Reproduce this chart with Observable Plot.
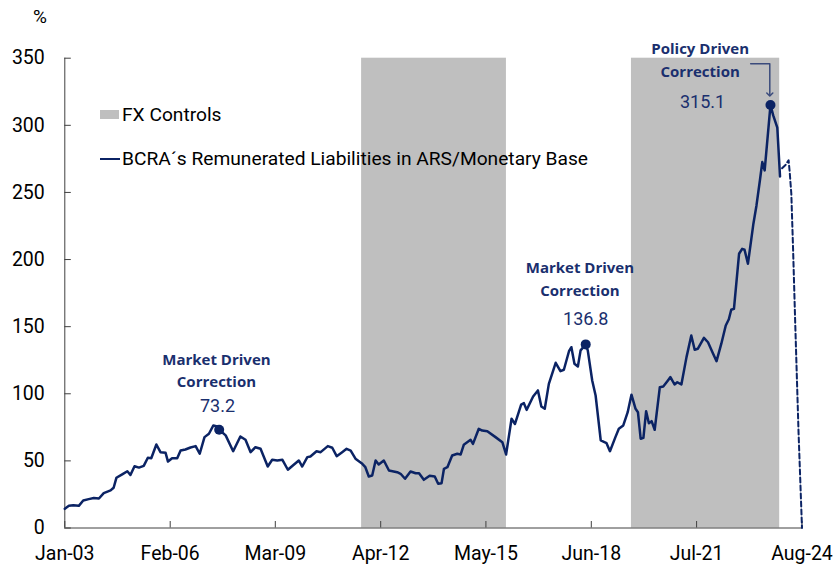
<!DOCTYPE html>
<html><head><meta charset="utf-8">
<script src="https://cdn.jsdelivr.net/npm/d3@7"></script>
<script src="https://cdn.jsdelivr.net/npm/@observablehq/plot@0.6"></script>
<style>
body{margin:0;background:#fff;}
#wrap{position:relative;width:836px;height:564px;font-family:Roboto,sans-serif;color:#000;}
#wrap svg{position:absolute;left:0;top:0;}
.pct{position:absolute;left:33px;top:5px;font-size:19px;}
.leg{position:absolute;left:100px;font-size:19.2px;white-space:nowrap;display:flex;align-items:center;}
.sw{display:inline-block;width:19px;height:9px;background:#bfbfbf;margin-right:3px;}
.ln{display:inline-block;width:20px;height:2px;background:#0b2364;margin-right:2px;}
</style></head><body><div id="wrap"></div>
<script>
// ---- data (decimal years) ----
const lineYears = [2003.00,2003.12,2003.25,2003.41,2003.54,2003.70,2003.85,2004.00,2004.14,2004.34,2004.43,2004.51,2004.68,2004.83,2004.92,2005.04,2005.17,2005.31,2005.43,2005.53,2005.68,2005.80,2005.95,2006.02,2006.14,2006.29,2006.39,2006.53,2006.68,2006.83,2006.95,2007.09,2007.22,2007.35,2007.46,2007.52,2007.71,2007.93,2008.14,2008.29,2008.44,2008.58,2008.73,2008.94,2009.07,2009.22,2009.37,2009.53,2009.71,2009.85,2009.95,2010.10,2010.19,2010.37,2010.49,2010.70,2010.83,2010.96,2011.12,2011.25,2011.37,2011.51,2011.71,2011.80,2011.90,2012.00,2012.10,2012.19,2012.34,2012.49,2012.73,2012.83,2012.96,2013.12,2013.27,2013.37,2013.51,2013.68,2013.83,2013.93,2014.03,2014.10,2014.20,2014.34,2014.49,2014.59,2014.68,2014.88,2014.95,2015.12,2015.22,2015.37,2015.61,2015.81,2015.92,2016.08,2016.18,2016.36,2016.44,2016.52,2016.71,2016.85,2016.95,2017.05,2017.17,2017.37,2017.51,2017.61,2017.76,2017.83,2017.92,2018.02,2018.10,2018.25,2018.31,2018.44,2018.54,2018.69,2018.86,2018.96,2019.12,2019.22,2019.35,2019.48,2019.59,2019.71,2019.78,2019.86,2019.94,2020.02,2020.10,2020.18,2020.27,2020.42,2020.52,2020.64,2020.73,2020.85,2020.93,2021.05,2021.20,2021.34,2021.44,2021.53,2021.71,2021.83,2021.96,2022.08,2022.22,2022.35,2022.44,2022.51,2022.59,2022.74,2022.83,2022.90,2023.00,2023.16,2023.25,2023.35,2023.42,2023.49,2023.66,2023.74,2023.86,2023.94];
const lineValues = [14.3,16.5,17,16.5,20.5,21.5,22.3,22,26,28,30,37.4,40,42.3,39.5,46,45,46.3,52.3,52,62.2,56.5,56,49.5,52,52,57.7,58.5,60,61,55.3,67.7,70.2,76.4,75.6,73.2,69,57.2,68.2,65.7,56.5,60.2,59,45.8,50.8,50.3,50.8,43.4,47.3,50.3,45.8,52.8,53.3,57.2,56.5,61,59.8,53.5,56.5,59,57.7,51.6,47.8,45.3,38.4,39.1,50.3,47.3,50.3,42.8,41.6,40.4,36.7,42.1,40.8,40.8,35.9,38.9,38.4,32.9,33.4,44.1,45.3,54,55.3,54.8,62,65.7,62.7,73.9,72.6,72.1,67.7,63.9,54.8,81.4,77.5,92,93,88,98,102.5,90.5,88.8,107.4,123.1,116.8,117.9,131.7,134.7,122.3,120.3,132.3,136.8,132.3,109.9,98.7,65.2,63.2,57.2,67.7,73.9,76.4,86.3,99.3,88.8,86.3,66.5,67.2,87,78.1,79.6,73.2,104.9,105.4,109.4,112.4,106.9,108.6,106.9,127.3,143.4,132.8,133.5,141.7,138.4,131,124.3,137.3,150.9,155.5,162.6,163.3,204.3,208,207.3,196.9,226.7,240.3,258.9,272.6,266.4,315.1,307.4,298.2,261.9];
const projYears = [2024.00,2024.10,2024.19,2024.22,2024.27,2024.32,2024.38,2024.48,2024.582];
const projValues = [268,270.5,274,266,249,209,156,72,0];
const bandStartYears = [2011.69,2019.59];
const bandEndYears = [2015.93,2023.93];
const tickLabels = ["Jan-03","Feb-06","Mar-09","Apr-12","May-15","Jun-18","Jul-21","Aug-24"];
const tickYearMonths = [[2003,0],[2006,1],[2009,2],[2012,3],[2015,4],[2018,5],[2021,6],[2024,7]];
const yTicks = [0,50,100,150,200,250,300,350];
const peakYears = [2007.52,2018.25,2023.66];
const peakValues = [73.2,136.8,315.1];
const peakLabels = ["73.2","136.8","315.1"];
const noteTitles = ["Market Driven\nCorrection","Market Driven\nCorrection","Policy Driven\nCorrection"];
const noteYears = [2007.44,2018.08,2021.60];
const noteValues = [104.7,172.7,335.9];
const numYears = [2007.47,2018.25,2021.67];
const numValues = [86.3,150.9,313.1];
const arrowYears = [2023.08,2023.64,2023.64];
const arrowValues = [345.9,345.9,323];
const legendItems = ["FX Controls","BCRA´s Remunerated Liabilities in ARS/Monetary Base"];

// ---- helpers ----
function toDate(y){const yr=Math.floor(y);const s=Date.UTC(yr,0,1),e=Date.UTC(yr+1,0,1);return new Date(s+(y-yr)*(e-s));}
const navy="#0b2364", textNavy="#1a2f6e";
const W=836,H=564,mL=64.3,mR=34.5,mT=57.7,mB=36.5;
const fW=W-mL-mR, fH=H-mT-mB;
const tickDates = tickYearMonths.map(([y,m])=>new Date(Date.UTC(y,m,1)));
const labelOf = new Map(tickDates.map((d,i)=>[+d,tickLabels[i]]));
const xDomain=[tickDates[0],tickDates[tickDates.length-1]];
const series = lineYears.map((y,i)=>({date:toDate(y),value:lineValues[i]}));
const proj = projYears.map((y,i)=>({date:toDate(y),value:projValues[i]}));
const bands = bandStartYears.map((s,i)=>({x1:toDate(s),x2:toDate(bandEndYears[i])}));
const peaks = peakYears.map((y,i)=>({date:toDate(y),value:peakValues[i]}));
const notes = noteTitles.map((t,i)=>({date:toDate(noteYears[i]),value:noteValues[i],text:t}));
const nums = peakLabels.map((t,i)=>({date:toDate(numYears[i]),value:numValues[i],text:t}));
const arrow = arrowYears.map((y,i)=>({date:toDate(y),value:arrowValues[i]}));

const chart = Plot.plot({
  width:W,height:H,marginLeft:mL,marginRight:mR,marginTop:mT,marginBottom:mB,
  style:{fontFamily:"Roboto, sans-serif",fontSize:"19.5px",color:"#000",background:"#fff",overflow:"visible"},
  x:{type:"utc",domain:xDomain},
  y:{domain:[0,350]},
  marks:[
    Plot.rect(bands,{x1:"x1",x2:"x2",fill:"#bfbfbf"}),
    Plot.axisX(tickDates,{tickSize:0,tickPadding:18.5,tickFormat:d=>labelOf.get(+d),fontSize:19.5,label:null,fill:"#000"}),
    Plot.axisY(yTicks,{tickSize:0,tickPadding:20,fontSize:19.5,label:null,fill:"#000"}),
    Plot.ruleY([0],{stroke:"#404040",strokeWidth:1}),
    Plot.ruleX([xDomain[0]],{stroke:"#404040",strokeWidth:1}),
    Plot.ruleX(tickDates,{insetTop:fH-6.5,stroke:"#404040"}),
    Plot.ruleY(yTicks,{insetRight:fW-6.5,stroke:"#404040"}),
    Plot.line(series,{x:"date",y:"value",stroke:navy,strokeWidth:2.5,strokeLinejoin:"round"}),
    Plot.line(proj,{x:"date",y:"value",stroke:navy,strokeWidth:2,strokeDasharray:"5,3"}),
    Plot.dot(peaks,{x:"date",y:"value",r:5,fill:navy,stroke:null}),
    Plot.text(notes,{x:"date",y:"value",text:"text",lineAnchor:"bottom",lineHeight:1.53,fontFamily:"Open Sans",fontWeight:700,fontSize:15,fill:textNavy}),
    Plot.text(nums,{x:"date",y:"value",text:"text",lineAnchor:"bottom",fontFamily:"Roboto",fontSize:18,fill:textNavy}),
    Plot.line(arrow,{x:"date",y:"value",stroke:"#3b4b7c",strokeWidth:1.5,markerEnd:"arrow"})
  ]
});
const wrap=document.getElementById("wrap");
wrap.appendChild(chart);
const pct=document.createElement("div");pct.className="pct";pct.textContent="%";wrap.appendChild(pct);
const l1=document.createElement("div");l1.className="leg";l1.style.top="103px";
l1.innerHTML='<span class="sw"></span>';l1.appendChild(document.createTextNode(legendItems[0]));wrap.appendChild(l1);
const l2=document.createElement("div");l2.className="leg";l2.style.top="147px";
l2.innerHTML='<span class="ln"></span>';l2.appendChild(document.createTextNode(legendItems[1]));wrap.appendChild(l2);
</script></body></html>
